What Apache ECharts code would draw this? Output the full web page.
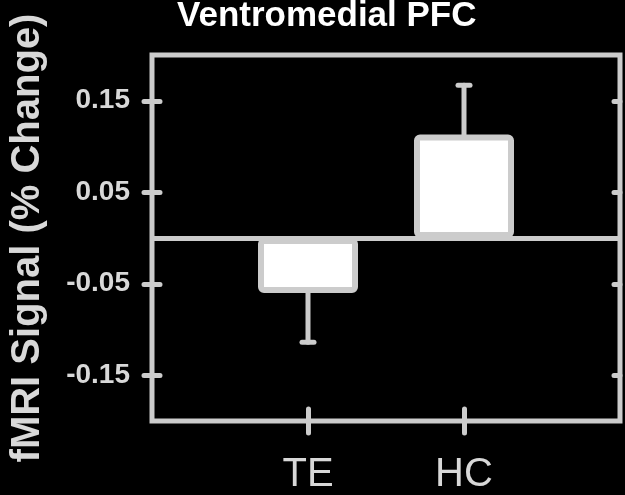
<!DOCTYPE html>
<html>
<head>
<meta charset="utf-8">
<script src="https://cdn.jsdelivr.net/npm/echarts@6/dist/echarts.min.js"></script>
<style>
  html, body { margin: 0; padding: 0; background: #000; }
  #chart { width: 625px; height: 495px; }
</style>
</head>
<body>
<div id="chart"></div>
<script>
// padded ends so TE / HC sit at 1/3 and 2/3 of the frame
var categories = ['', 'TE', 'HC', ''];
var means = ['-', -0.06, 0.113, '-'];
var errors = [0, 0.054, 0.054, 0];
var yTicks = [-0.15, -0.05, 0.05, 0.15];

var frame = '#cccccc';
var font = 'Liberation Sans, Arial, sans-serif';

var errData = [];
for (var i = 0; i < categories.length; i++) {
    if (means[i] !== '-') errData.push([i, means[i], errors[i]]);
}

var chart = echarts.init(document.getElementById('chart'));
var option = {
    backgroundColor: '#000',
    animation: false,
    title: {
        text: 'Ventromedial PFC',
        left: 172,
        top: -6,
        textStyle: { color: '#fff', fontSize: 35, fontWeight: 'bold', fontFamily: font }
    },
    grid: {
        left: 150.5, right: 5, top: 55, bottom: 71.5,
        show: true, borderColor: frame, borderWidth: 5, backgroundColor: 'transparent'
    },
    xAxis: [
        {
            type: 'category', data: categories, boundaryGap: false,
            axisLine: { show: false, onZero: false },
            axisTick: {
                show: true, length: 12, inside: false,
                interval: function (idx, val) { return val !== ''; },
                lineStyle: { color: frame, width: 5, cap: 'round' }
            },
            axisLabel: {
                margin: 34, color: '#d8d8d8', fontSize: 40, fontFamily: font,
                interval: function (idx, val) { return val !== ''; }
            }
        },
        {
            type: 'category', data: categories, boundaryGap: false, position: 'bottom',
            axisLine: { show: false, onZero: false },
            axisTick: {
                show: true, length: 12, inside: true,
                interval: function (idx, val) { return val !== ''; },
                lineStyle: { color: frame, width: 5, cap: 'round' }
            },
            axisLabel: { show: false }
        }
    ],
    yAxis: [
        {
            type: 'value', min: -0.2, max: 0.2, position: 'left',
            name: 'fMRI Signal (% Change)', nameLocation: 'middle', nameGap: 104,
            nameTextStyle: { color: '#d8d8d8', fontSize: 40, fontWeight: 'bold', fontFamily: font },
            axisLine: { show: false },
            splitLine: { show: false },
            axisTick: {
                show: true, length: 8, customValues: yTicks,
                lineStyle: { color: frame, width: 5, cap: 'round' }
            },
            axisLabel: {
                customValues: yTicks, margin: 22, color: '#d8d8d8',
                fontSize: 28, fontWeight: 'bold', fontFamily: font,
                formatter: function (v) { return v.toFixed(2); }
            }
        },
        {
            type: 'value', min: -0.2, max: 0.2, position: 'left',
            axisLine: { show: false }, splitLine: { show: false },
            axisTick: {
                show: true, length: 8, inside: true, customValues: yTicks,
                lineStyle: { color: frame, width: 5, cap: 'round' }
            },
            axisLabel: { show: false }
        },
        {
            type: 'value', min: -0.2, max: 0.2, position: 'right',
            axisLine: { show: false }, splitLine: { show: false },
            axisTick: {
                show: true, length: 6, inside: true, customValues: yTicks,
                lineStyle: { color: frame, width: 5, cap: 'round' }
            },
            axisLabel: { show: false }
        }
    ],
    series: [
        {
            type: 'custom',
            z: 1,
            data: errData,
            renderItem: function (params, api) {
                var x = api.value(0), m = api.value(1), e = api.value(2);
                var end = m < 0 ? m - e : m + e;
                var p0 = api.coord([x, m]);
                var p1 = api.coord([x, end]);
                var st = { stroke: frame, lineWidth: 5, lineCap: 'round' };
                return {
                    type: 'group',
                    children: [
                        { type: 'line', shape: { x1: p0[0], y1: p0[1], x2: p1[0], y2: p1[1] }, style: st },
                        { type: 'line', shape: { x1: p1[0] - 6, y1: p1[1], x2: p1[0] + 6, y2: p1[1] }, style: st }
                    ]
                };
            }
        },
        {
            type: 'bar',
            z: 2,
            data: means,
            barWidth: 100,
            itemStyle: { color: '#fff', borderColor: frame, borderWidth: 6, borderRadius: 3 },
            markLine: {
                silent: true, symbol: 'none', label: { show: false },
                lineStyle: { color: frame, width: 5, type: 'solid' },
                data: [{ yAxis: 0 }]
            }
        }
    ]
};
chart.setOption(option);
</script>
</body>
</html>
